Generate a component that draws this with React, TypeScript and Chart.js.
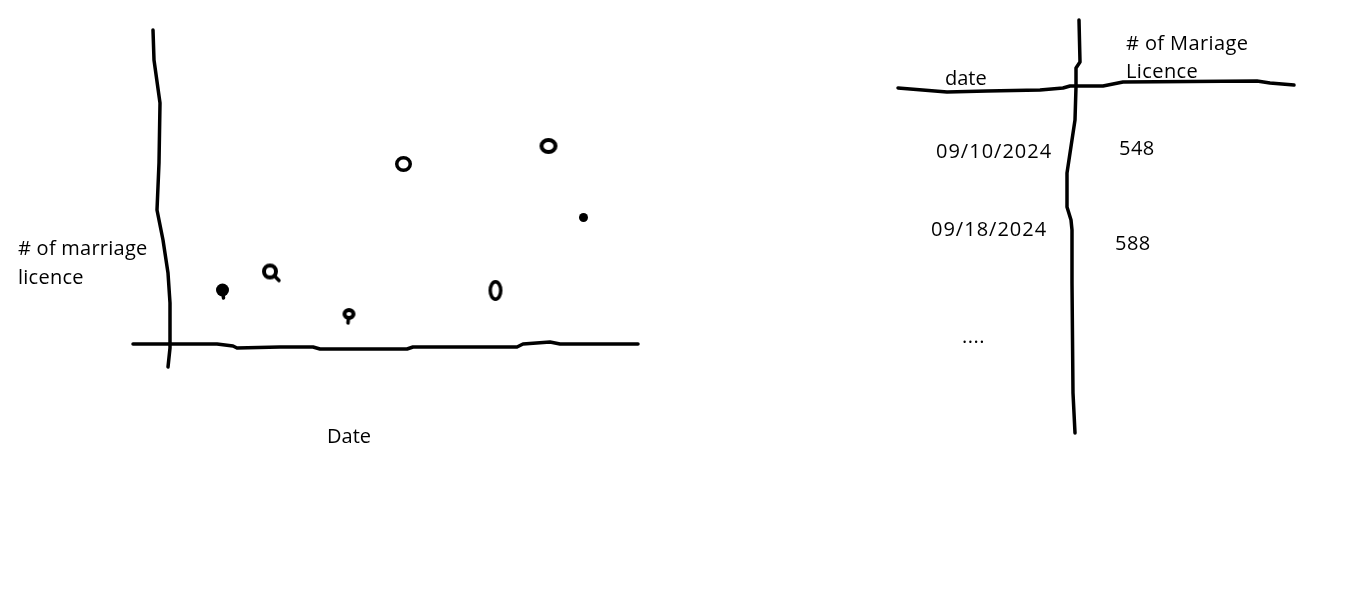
import React, { useEffect, useRef } from "react";
import { Chart, registerables } from "chart.js";

Chart.register(...registerables);

// ---- Data ----
const dayOffsets = [6.45, 11.2, 19.1, 24.55, 33.75, 39.05, 42.55];
const licenceCounts = [455, 473.5, 431, 581, 454.5, 599, 527.5];

const tableDates = ["09/10/2024", "09/18/2024", "...."];
const tableCounts = ["548", "588"];

const yAxisLabel = ["# of marriage", "licence"];
const xAxisLabel = "Date";
const tableHeaderDate = "date";
const tableHeaderCount = ["# of Mariage", "Licence"];

// ---- Marker styles (hand-drawn rings / dots) ----
const markerRx = [6.5, 8, 6.5, 8.5, 7, 9, 4.5];
const markerRy = [6.5, 8, 6, 8, 10.5, 8, 4.5];
const markerFilled = [true, false, false, false, false, false, true];
const markerStroke = [3, 4, 4, 3.5, 3.5, 4, 3];
const markerTail: [number, number][] = [[1, 8], [9, 9], [-1, 9], [0, 0], [0, 0], [0, 0], [0, 0]];

function makeMarker(rx: number, ry: number, filled: boolean, lw: number, tail: [number, number]) {
  const c = document.createElement("canvas");
  const hx = Math.max(rx, Math.abs(tail[0]) + 2);
  const hy = Math.max(ry, Math.abs(tail[1]) + 2);
  const w = Math.ceil(hx * 2) + 2;
  const h = Math.ceil(hy * 2) + 2;
  c.width = w;
  c.height = h;
  const ctx = c.getContext("2d")!;
  const cx = w / 2;
  const cy = h / 2;
  ctx.fillStyle = "#000";
  ctx.strokeStyle = "#000";
  ctx.lineCap = "round";
  if (tail[0] !== 0 || tail[1] !== 0) {
    // tail starts at the ring's edge so the hole stays open
    const ang = Math.atan2(tail[1], tail[0]);
    const sx = cx + Math.cos(ang) * (rx - lw / 2);
    const sy = cy + Math.sin(ang) * (ry - lw / 2);
    ctx.beginPath();
    ctx.lineWidth = 3.5;
    ctx.moveTo(filled ? cx : sx, filled ? cy : sy);
    ctx.lineTo(cx + tail[0], cy + tail[1]);
    ctx.stroke();
  }
  ctx.beginPath();
  if (filled) {
    ctx.ellipse(cx, cy, rx, ry, 0, 0, Math.PI * 2);
    ctx.fill();
  } else {
    ctx.ellipse(cx, cy, rx - lw / 2, ry - lw / 2, 0, 0, Math.PI * 2);
    ctx.lineWidth = lw;
    ctx.stroke();
  }
  return c;
}

// ---- Hand-drawn lines ----
const yAxisPath: [number, number][] = [
  [153, 30], [154, 60], [160, 103], [159, 163], [157, 210], [163, 240],
  [168, 273], [170, 303], [170, 348], [168, 367],
];
const xAxisPath: [number, number][] = [
  [133, 344], [217, 344], [233, 346], [237, 348], [280, 347], [313, 347],
  [320, 349], [407, 349], [413, 347], [517, 347], [523, 344], [550, 342],
  [560, 344], [638, 344],
];
const tableVPath: [number, number][] = [
  [1079, 20], [1080, 62], [1076, 68], [1076, 87], [1075, 120], [1067, 173],
  [1067, 207], [1071, 220], [1072, 230], [1072, 283], [1073, 393], [1075, 433],
];
const tableHPath: [number, number][] = [
  [898, 88], [947, 92], [987, 91], [1040, 90], [1063, 88], [1070, 86],
  [1103, 86], [1123, 82], [1257, 81], [1270, 83], [1294, 85],
];

const FONT = '20px "Open Sans"';

const sketchPlugin = {
  id: "sketch",
  afterDraw(chart: any) {
    const ctx: any = chart.ctx;
    ctx.save();
    ctx.strokeStyle = "#000";
    ctx.lineWidth = 3.5;
    ctx.lineJoin = "round";
    ctx.lineCap = "round";
    for (const path of [yAxisPath, xAxisPath, tableVPath, tableHPath]) {
      ctx.beginPath();
      path.forEach(([x, y], i) => (i === 0 ? ctx.moveTo(x, y) : ctx.lineTo(x, y)));
      ctx.stroke();
    }
    ctx.fillStyle = "#000";
    ctx.font = FONT;
    ctx.textBaseline = "alphabetic";
    ctx.textAlign = "left";
    ctx.letterSpacing = "0.25px";
    ctx.fillText(yAxisLabel[0], 18, 255);
    ctx.fillText(yAxisLabel[1], 18, 284);
    ctx.letterSpacing = "0px";
    ctx.fillText(xAxisLabel, 327, 443);
    ctx.fillText(tableHeaderDate, 945, 85);
    ctx.letterSpacing = "0.4px";
    ctx.fillText(tableHeaderCount[0], 1126, 50);
    ctx.fillText(tableHeaderCount[1], 1126, 78);
    ctx.letterSpacing = "1px";
    ctx.fillText(tableDates[0], 936, 158);
    ctx.fillText(tableDates[1], 931, 236);
    ctx.letterSpacing = "0.5px";
    ctx.fillText(tableDates[2], 962, 343);
    ctx.fillText(tableCounts[0], 1119, 155);
    ctx.fillText(tableCounts[1], 1115, 250);
    ctx.restore();
  },
};

export default function App() {
  const ref = useRef<HTMLCanvasElement | null>(null);
  useEffect(() => {
    if (!ref.current) return;
    const markers = dayOffsets.map((_, i) =>
      makeMarker(markerRx[i], markerRy[i], markerFilled[i], markerStroke[i], markerTail[i])
    );
    const chart = new Chart(ref.current, {
      type: "scatter",
      data: {
        datasets: [
          {
            data: dayOffsets.map((x, i) => ({ x, y: licenceCounts[i] })),
            pointStyle: markers as any,
            pointRadius: 8,
          },
        ],
      },
      options: {
        animation: false,
        responsive: false,
        devicePixelRatio: 1,
        layout: { padding: { left: 158, right: 717, top: 30, bottom: 257 } },
        plugins: { legend: { display: false }, tooltip: { enabled: false } },
        scales: {
          x: { type: "linear", min: 0, max: 48, display: false },
          y: { type: "linear", min: 400, max: 715, display: false },
        },
      },
      plugins: [sketchPlugin],
    });
    return () => chart.destroy();
  }, []);
  return (
    <div style={{ position: "fixed", left: 0, top: 0, width: 1355, height: 602, background: "#fff" }}>
      <canvas ref={ref} width={1355} height={602} style={{ display: "block" }} />
    </div>
  );
}
